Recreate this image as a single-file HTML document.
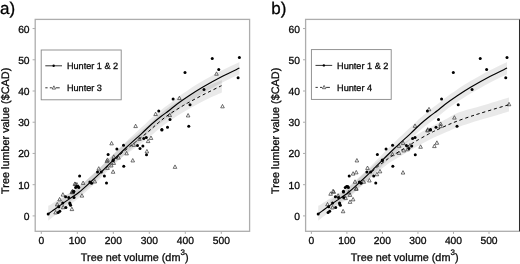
<!DOCTYPE html>
<html><head><meta charset="utf-8"><title>Tree lumber value</title>
<style>
html,body{margin:0;padding:0;background:#fff;}
svg{display:block;will-change:transform;filter:grayscale(1);}
text{font-family:"Liberation Sans",sans-serif;fill:#0a0a0a;stroke:#0a0a0a;stroke-width:0.3px;text-rendering:geometricPrecision;}
.tk{font-size:10.3px;}
.ti{font-size:10.85px;}
.lg{font-size:9.15px;}
.pl{font-size:17px;fill:#000;}
</style></head><body>
<svg width="520" height="264" viewBox="0 0 520 264">
<rect x="0" y="0" width="520" height="264" fill="#fff"/>

<g>
<path d="M48.20 205.93 C48.78 205.60 48.90 205.68 51.70 203.96 C54.50 202.23 60.50 198.51 65.00 195.61 C69.50 192.70 74.43 189.78 78.70 186.54 C82.97 183.31 87.05 179.37 90.60 176.18 C94.15 172.99 97.58 169.70 100.00 167.40 C102.42 165.10 103.22 164.25 105.10 162.40 C106.97 160.55 107.80 159.68 111.25 156.28 C114.70 152.88 120.69 146.85 125.80 141.99 C130.91 137.13 137.57 131.15 141.90 127.10 C146.23 123.05 148.58 120.55 151.80 117.68 C155.03 114.81 158.37 112.16 161.25 109.88 C164.13 107.60 166.51 106.00 169.10 104.00 C171.69 102.00 173.48 100.29 176.80 97.88 C180.12 95.46 184.72 92.29 189.00 89.49 C193.28 86.70 197.00 84.30 202.50 81.10 C208.00 77.90 215.85 73.50 222.00 70.30 C228.15 67.10 236.50 63.30 239.40 61.90 L239.40 74.30 C236.50 75.70 228.15 79.50 222.00 82.70 C215.85 85.90 208.00 90.27 202.50 93.50 C197.00 96.73 193.28 99.24 189.00 102.11 C184.72 104.98 180.12 108.24 176.80 110.72 C173.48 113.21 171.69 115.02 169.10 117.00 C166.51 118.98 164.13 120.42 161.25 122.60 C158.37 124.77 155.03 127.28 151.80 130.05 C148.58 132.81 146.23 135.24 141.90 139.17 C137.57 143.10 130.91 148.87 125.80 153.61 C120.69 158.35 114.70 164.26 111.25 167.61 C107.80 170.96 106.97 171.85 105.10 173.70 C103.22 175.55 102.42 176.40 100.00 178.70 C97.58 181.00 94.15 184.27 90.60 187.52 C87.05 190.78 82.97 194.82 78.70 198.23 C74.43 201.65 69.50 204.71 65.00 207.99 C60.50 211.28 54.50 215.85 51.70 217.95 C48.90 220.05 48.78 220.15 48.20 220.59 Z" fill="#000" fill-opacity="0.085"/>
<path d="M55.00 203.70 C56.67 202.48 61.05 199.18 65.00 196.40 C68.95 193.62 74.43 190.32 78.70 187.00 C82.97 183.68 87.05 179.72 90.60 176.50 C94.15 173.28 96.56 171.02 100.00 167.70 C103.44 164.38 106.95 160.75 111.25 156.60 C115.55 152.45 121.76 146.32 125.80 142.80 C129.84 139.28 131.68 138.55 135.50 135.50 C139.32 132.45 144.95 127.82 148.75 124.50 C152.55 121.18 154.91 118.52 158.30 115.60 C161.69 112.68 164.73 109.93 169.10 107.00 C173.47 104.07 178.93 101.08 184.50 98.00 C190.07 94.92 196.27 91.48 202.50 88.50 C208.73 85.52 218.67 81.50 221.90 80.10 L221.90 92.60 C218.67 94.08 208.73 98.35 202.50 101.50 C196.27 104.65 190.07 108.20 184.50 111.50 C178.93 114.80 173.47 118.30 169.10 121.30 C164.73 124.30 161.69 126.75 158.30 129.50 C154.91 132.25 152.55 134.75 148.75 137.80 C144.95 140.85 139.32 145.02 135.50 147.80 C131.68 150.58 129.84 151.53 125.80 154.50 C121.76 157.47 115.55 161.98 111.25 165.60 C106.95 169.22 103.44 172.97 100.00 176.20 C96.56 179.43 94.15 181.78 90.60 185.00 C87.05 188.22 82.97 192.17 78.70 195.50 C74.43 198.83 68.95 202.22 65.00 205.00 C61.05 207.78 56.67 211.00 55.00 212.20 Z" fill="#000" fill-opacity="0.085"/>
<g fill="none" stroke="#333" stroke-width="0.7" stroke-linejoin="miter">
<path d="M63.20 205.33 L65.00 208.75 L61.40 208.75 Z"/>
<path d="M74.80 181.93 L76.60 185.35 L73.00 185.35 Z"/>
<path d="M76.90 182.53 L78.70 185.95 L75.10 185.95 Z"/>
<path d="M72.50 190.33 L74.30 193.75 L70.70 193.75 Z"/>
<path d="M62.90 192.68 L64.70 196.10 L61.10 196.10 Z"/>
<path d="M59.60 197.43 L61.40 200.85 L57.80 200.85 Z"/>
<path d="M57.25 202.43 L59.05 205.85 L55.45 205.85 Z"/>
<path d="M71.90 207.18 L73.70 210.60 L70.10 210.60 Z"/>
<path d="M81.90 193.68 L83.70 197.10 L80.10 197.10 Z"/>
<path d="M71.90 190.18 L73.70 193.60 L70.10 193.60 Z"/>
<path d="M55.60 210.53 L57.40 213.95 L53.80 213.95 Z"/>
<path d="M83.10 181.03 L84.90 184.45 L81.30 184.45 Z"/>
<path d="M75.60 182.33 L77.40 185.75 L73.80 185.75 Z"/>
<path d="M94.80 179.53 L96.60 182.95 L93.00 182.95 Z"/>
<path d="M98.75 166.68 L100.55 170.10 L96.95 170.10 Z"/>
<path d="M113.10 169.83 L114.90 173.25 L111.30 173.25 Z"/>
<path d="M107.50 166.03 L109.30 169.45 L105.70 169.45 Z"/>
<path d="M111.25 163.53 L113.05 166.95 L109.45 166.95 Z"/>
<path d="M113.75 161.03 L115.55 164.45 L111.95 164.45 Z"/>
<path d="M106.90 159.18 L108.70 162.60 L105.10 162.60 Z"/>
<path d="M72.50 189.18 L74.30 192.60 L70.70 192.60 Z"/>
<path d="M111.60 141.43 L113.40 144.85 L109.80 144.85 Z"/>
<path d="M133.75 142.93 L135.55 146.35 L131.95 146.35 Z"/>
<path d="M139.40 136.93 L141.20 140.35 L137.60 140.35 Z"/>
<path d="M126.60 151.43 L128.40 154.85 L124.80 154.85 Z"/>
<path d="M118.50 155.68 L120.30 159.10 L116.70 159.10 Z"/>
<path d="M132.75 158.53 L134.55 161.95 L130.95 161.95 Z"/>
<path d="M146.90 149.43 L148.70 152.85 L145.10 152.85 Z"/>
<path d="M148.10 139.18 L149.90 142.60 L146.30 142.60 Z"/>
<path d="M151.00 136.03 L152.80 139.45 L149.20 139.45 Z"/>
<path d="M107.50 157.93 L109.30 161.35 L105.70 161.35 Z"/>
<path d="M113.75 154.83 L115.55 158.25 L111.95 158.25 Z"/>
<path d="M155.60 112.13 L157.40 115.55 L153.80 115.55 Z"/>
<path d="M135.60 124.18 L137.40 127.60 L133.80 127.60 Z"/>
<path d="M169.75 113.18 L171.55 116.60 L167.95 116.60 Z"/>
<path d="M188.10 113.53 L189.90 116.95 L186.30 116.95 Z"/>
<path d="M216.50 71.83 L218.30 75.25 L214.70 75.25 Z"/>
<path d="M179.40 96.18 L181.20 99.60 L177.60 99.60 Z"/>
<path d="M222.50 104.43 L224.30 107.85 L220.70 107.85 Z"/>
<path d="M175.00 164.93 L176.80 168.35 L173.20 168.35 Z"/>
</g>
<g fill="#000">
<circle cx="48.20" cy="213.90" r="1.5"/>
<circle cx="59.80" cy="211.30" r="1.5"/>
<circle cx="58.20" cy="212.40" r="1.5"/>
<circle cx="69.80" cy="203.00" r="1.5"/>
<circle cx="70.60" cy="205.30" r="1.5"/>
<circle cx="76.90" cy="186.60" r="1.5"/>
<circle cx="58.75" cy="206.75" r="1.5"/>
<circle cx="62.75" cy="203.00" r="1.5"/>
<circle cx="65.90" cy="207.40" r="1.5"/>
<circle cx="70.00" cy="203.90" r="1.5"/>
<circle cx="68.75" cy="197.60" r="1.5"/>
<circle cx="74.00" cy="197.60" r="1.5"/>
<circle cx="65.60" cy="196.75" r="1.5"/>
<circle cx="73.75" cy="192.00" r="1.5"/>
<circle cx="75.60" cy="187.60" r="1.5"/>
<circle cx="78.75" cy="187.60" r="1.5"/>
<circle cx="79.60" cy="176.10" r="1.5"/>
<circle cx="91.60" cy="183.20" r="1.5"/>
<circle cx="104.40" cy="176.00" r="1.5"/>
<circle cx="106.50" cy="183.10" r="1.5"/>
<circle cx="123.75" cy="166.25" r="1.5"/>
<circle cx="89.90" cy="181.90" r="1.5"/>
<circle cx="97.50" cy="171.90" r="1.5"/>
<circle cx="101.25" cy="172.10" r="1.5"/>
<circle cx="78.10" cy="186.60" r="1.5"/>
<circle cx="73.75" cy="191.25" r="1.5"/>
<circle cx="113.10" cy="160.60" r="1.5"/>
<circle cx="108.10" cy="154.40" r="1.5"/>
<circle cx="116.90" cy="149.00" r="1.5"/>
<circle cx="123.50" cy="145.25" r="1.5"/>
<circle cx="137.50" cy="145.60" r="1.5"/>
<circle cx="140.00" cy="148.50" r="1.5"/>
<circle cx="142.90" cy="146.00" r="1.5"/>
<circle cx="146.50" cy="154.75" r="1.5"/>
<circle cx="143.75" cy="138.50" r="1.5"/>
<circle cx="146.25" cy="137.50" r="1.5"/>
<circle cx="161.90" cy="130.00" r="1.5"/>
<circle cx="113.10" cy="160.00" r="1.5"/>
<circle cx="158.75" cy="111.00" r="1.5"/>
<circle cx="170.00" cy="119.40" r="1.5"/>
<circle cx="161.90" cy="129.40" r="1.5"/>
<circle cx="167.50" cy="127.25" r="1.5"/>
<circle cx="188.75" cy="126.25" r="1.5"/>
<circle cx="190.00" cy="104.75" r="1.5"/>
<circle cx="185.00" cy="72.60" r="1.5"/>
<circle cx="204.00" cy="89.50" r="1.5"/>
<circle cx="173.10" cy="98.90" r="1.5"/>
<circle cx="212.25" cy="58.40" r="1.5"/>
<circle cx="239.40" cy="57.50" r="1.5"/>
<circle cx="218.75" cy="69.40" r="1.5"/>
<circle cx="238.10" cy="77.75" r="1.5"/>
</g>
<path d="M48.20 213.90 C48.78 213.48 48.90 213.40 51.70 211.40 C54.50 209.40 60.50 205.05 65.00 201.90 C69.50 198.75 74.43 195.82 78.70 192.50 C82.97 189.18 87.05 185.22 90.60 182.00 C94.15 178.78 97.58 175.50 100.00 173.20 C102.42 170.90 103.22 170.05 105.10 168.20 C106.97 166.35 107.80 165.47 111.25 162.10 C114.70 158.73 120.69 152.80 125.80 148.00 C130.91 143.20 137.57 137.30 141.90 133.30 C146.23 129.30 148.58 126.83 151.80 124.00 C155.03 121.17 158.37 118.55 161.25 116.30 C164.13 114.05 166.51 112.50 169.10 110.50 C171.69 108.50 173.48 106.75 176.80 104.30 C180.12 101.85 184.72 98.63 189.00 95.80 C193.28 92.97 197.00 90.52 202.50 87.30 C208.00 84.08 215.85 79.70 222.00 76.50 C228.15 73.30 236.50 69.50 239.40 68.10" fill="none" stroke="#000" stroke-width="1.15"/>
<path d="M116.00 158.60 C117.08 157.58 119.25 155.27 122.50 152.50 C125.75 149.73 131.12 145.54 135.50 142.00 C139.88 138.46 144.95 134.45 148.75 131.25 C152.55 128.05 154.91 125.61 158.30 122.80 C161.69 119.99 164.73 117.40 169.10 114.40 C173.47 111.40 181.43 106.68 184.50 104.80 C187.57 102.92 184.50 104.72 187.50 103.10 C190.50 101.48 196.83 98.00 202.50 95.10 C208.17 92.20 218.33 87.27 221.50 85.70" fill="none" stroke="#000" stroke-width="1.0" stroke-dasharray="3.2 2.8" stroke-dashoffset="0"/>
<rect x="35.20" y="19.40" width="214.40" height="211.90" fill="none" stroke="#adadad" stroke-width="1.3"/>
<g stroke="#adadad" stroke-width="1.0">
<line x1="32.60" y1="215.90" x2="35.20" y2="215.90"/>
<line x1="32.60" y1="184.68" x2="35.20" y2="184.68"/>
<line x1="32.60" y1="153.45" x2="35.20" y2="153.45"/>
<line x1="32.60" y1="122.23" x2="35.20" y2="122.23"/>
<line x1="32.60" y1="91.00" x2="35.20" y2="91.00"/>
<line x1="32.60" y1="59.78" x2="35.20" y2="59.78"/>
<line x1="32.60" y1="28.55" x2="35.20" y2="28.55"/>
<line x1="41.30" y1="231.30" x2="41.30" y2="233.90"/>
<line x1="77.30" y1="231.30" x2="77.30" y2="233.90"/>
<line x1="113.30" y1="231.30" x2="113.30" y2="233.90"/>
<line x1="149.30" y1="231.30" x2="149.30" y2="233.90"/>
<line x1="185.30" y1="231.30" x2="185.30" y2="233.90"/>
<line x1="221.30" y1="231.30" x2="221.30" y2="233.90"/>
</g>
<text class="tk" x="29.60" y="219.90" text-anchor="end">0</text>
<text class="tk" x="29.60" y="188.68" text-anchor="end">10</text>
<text class="tk" x="29.60" y="157.45" text-anchor="end">20</text>
<text class="tk" x="29.60" y="126.23" text-anchor="end">30</text>
<text class="tk" x="29.60" y="95.00" text-anchor="end">40</text>
<text class="tk" x="29.60" y="63.78" text-anchor="end">50</text>
<text class="tk" x="29.60" y="32.55" text-anchor="end">60</text>
<text class="tk" x="41.30" y="243.60" text-anchor="middle">0</text>
<text class="tk" x="77.30" y="243.60" text-anchor="middle">100</text>
<text class="tk" x="113.30" y="243.60" text-anchor="middle">200</text>
<text class="tk" x="149.30" y="243.60" text-anchor="middle">300</text>
<text class="tk" x="185.30" y="243.60" text-anchor="middle">400</text>
<text class="tk" x="221.30" y="243.60" text-anchor="middle">500</text>
<text class="ti" x="80.80" y="261.20">Tree net volume (dm<tspan dy="-6.3" font-size="8px">3</tspan><tspan dy="6.3">)</tspan></text>
<text class="ti" transform="translate(9.20 193.90) rotate(-90)" x="0" y="0">Tree lumber value ($CAD)</text>
<text class="pl" x="0.00" y="13.80">a)</text>
<rect x="41.20" y="50.00" width="80.00" height="49.80" fill="#fff" stroke="#888" stroke-width="0.9"/>
<line x1="45.30" y1="65.80" x2="62.00" y2="65.80" stroke="#000" stroke-width="0.8"/>
<circle cx="53.65" cy="65.80" r="1.2" fill="#000"/>
<line x1="45.30" y1="87.80" x2="47.60" y2="87.80" stroke="#000" stroke-width="0.8"/>
<line x1="49.80" y1="87.80" x2="51.90" y2="87.80" stroke="#000" stroke-width="0.8"/>
<line x1="55.90" y1="87.80" x2="59.70" y2="87.80" stroke="#000" stroke-width="0.8"/>
<g fill="#fff" stroke="#222" stroke-width="0.65"><path d="M53.90 85.84 L55.60 89.08 L52.20 89.08 Z"/></g>
<text class="lg" x="66.90" y="69.10">Hunter 1 &amp; 2</text>
<text class="lg" x="66.90" y="91.10">Hunter 3</text>
</g>
<g>
<path d="M318.20 205.93 C318.78 205.60 318.90 205.68 321.66 203.96 C324.43 202.23 330.35 198.51 334.80 195.61 C339.24 192.70 344.11 189.78 348.33 186.54 C352.54 183.31 356.57 179.37 360.08 176.18 C363.58 172.99 366.97 169.70 369.36 167.40 C371.75 165.10 372.55 164.25 374.40 162.40 C376.25 160.55 377.06 159.68 380.47 156.28 C383.88 152.88 389.80 146.85 394.84 141.99 C399.89 137.13 406.46 131.15 410.74 127.10 C415.02 123.05 417.33 120.55 420.52 117.68 C423.70 114.81 427.00 112.16 429.85 109.88 C432.70 107.60 435.04 106.00 437.60 104.00 C440.16 102.00 441.93 100.29 445.21 97.88 C448.48 95.46 453.03 92.29 457.26 89.49 C461.49 86.70 465.16 84.30 470.59 81.10 C476.02 77.90 483.77 73.50 489.85 70.30 C495.92 67.10 504.17 63.30 507.03 61.90 L507.03 74.30 C504.17 75.70 495.92 79.50 489.85 82.70 C483.77 85.90 476.02 90.27 470.59 93.50 C465.16 96.73 461.49 99.24 457.26 102.11 C453.03 104.98 448.48 108.24 445.21 110.72 C441.93 113.21 440.16 115.02 437.60 117.00 C435.04 118.98 432.70 120.42 429.85 122.60 C427.00 124.77 423.70 127.28 420.52 130.05 C417.33 132.81 415.02 135.24 410.74 139.17 C406.46 143.10 399.89 148.87 394.84 153.61 C389.80 158.35 383.88 164.26 380.47 167.61 C377.06 170.96 376.25 171.85 374.40 173.70 C372.55 175.55 371.75 176.40 369.36 178.70 C366.97 181.00 363.58 184.27 360.08 187.52 C356.57 190.78 352.54 194.82 348.33 198.23 C344.11 201.65 339.24 204.71 334.80 207.99 C330.35 211.28 324.43 215.85 321.66 217.95 C318.90 220.05 318.78 220.15 318.20 220.59 Z" fill="#000" fill-opacity="0.085"/>
<path d="M330.00 200.50 C333.05 198.37 343.30 191.57 348.30 187.70 C353.30 183.83 356.38 180.48 360.00 177.30 C363.62 174.12 367.08 171.18 370.00 168.60 C372.92 166.02 375.00 163.93 377.50 161.80 C380.00 159.67 382.67 157.60 385.00 155.80 C387.33 154.00 388.37 153.13 391.50 151.00 C394.63 148.87 400.08 145.40 403.80 143.00 C407.52 140.60 409.43 139.23 413.80 136.60 C418.17 133.97 424.35 130.27 430.00 127.20 C435.65 124.13 442.95 120.65 447.70 118.20 C452.45 115.75 453.12 114.48 458.50 112.50 C463.88 110.52 473.92 108.08 480.00 106.30 C486.08 104.52 490.17 103.27 495.00 101.80 C499.83 100.33 506.67 98.22 509.00 97.50 L509.00 111.50 C506.67 112.20 499.83 114.28 495.00 115.70 C490.17 117.12 486.08 118.12 480.00 120.00 C473.92 121.88 463.88 125.07 458.50 127.00 C453.12 128.93 452.45 129.53 447.70 131.60 C442.95 133.67 435.65 136.63 430.00 139.40 C424.35 142.17 418.17 145.73 413.80 148.20 C409.43 150.67 407.52 151.97 403.80 154.20 C400.08 156.43 394.63 159.60 391.50 161.60 C388.37 163.60 387.33 164.50 385.00 166.20 C382.67 167.90 380.00 169.73 377.50 171.80 C375.00 173.87 372.92 176.15 370.00 178.60 C367.08 181.05 363.62 183.52 360.00 186.50 C356.38 189.48 353.30 192.75 348.30 196.50 C343.30 200.25 333.05 206.92 330.00 209.00 Z" fill="#000" fill-opacity="0.085"/>
<g fill="none" stroke="#333" stroke-width="0.7" stroke-linejoin="miter">
<path d="M403.00 170.63 L404.80 174.05 L401.20 174.05 Z"/>
<path d="M436.90 140.83 L438.70 144.25 L435.10 144.25 Z"/>
<path d="M330.60 191.83 L332.40 195.25 L328.80 195.25 Z"/>
<path d="M333.75 189.93 L335.55 193.35 L331.95 193.35 Z"/>
<path d="M343.10 209.33 L344.90 212.75 L341.30 212.75 Z"/>
<path d="M350.00 199.93 L351.80 203.35 L348.20 203.35 Z"/>
<path d="M353.10 197.43 L354.90 200.85 L351.30 200.85 Z"/>
<path d="M350.00 193.03 L351.80 196.45 L348.20 196.45 Z"/>
<path d="M345.60 196.18 L347.40 199.60 L343.80 199.60 Z"/>
<path d="M338.10 193.68 L339.90 197.10 L336.30 197.10 Z"/>
<path d="M356.25 186.83 L358.05 190.25 L354.45 190.25 Z"/>
<path d="M327.50 202.43 L329.30 205.85 L325.70 205.85 Z"/>
<path d="M332.50 205.53 L334.30 208.95 L330.70 208.95 Z"/>
<path d="M356.90 158.53 L358.70 161.95 L355.10 161.95 Z"/>
<path d="M353.10 171.68 L354.90 175.10 L351.30 175.10 Z"/>
<path d="M356.25 170.43 L358.05 173.85 L354.45 173.85 Z"/>
<path d="M355.00 179.83 L356.80 183.25 L353.20 183.25 Z"/>
<path d="M363.75 179.83 L365.55 183.25 L361.95 183.25 Z"/>
<path d="M369.40 178.53 L371.20 181.95 L367.60 181.95 Z"/>
<path d="M367.50 166.03 L369.30 169.45 L365.70 169.45 Z"/>
<path d="M380.00 169.43 L381.80 172.85 L378.20 172.85 Z"/>
<path d="M376.90 172.33 L378.70 175.75 L375.10 175.75 Z"/>
<path d="M356.25 186.68 L358.05 190.10 L354.45 190.10 Z"/>
<path d="M333.10 189.18 L334.90 192.60 L331.30 192.60 Z"/>
<path d="M348.75 190.43 L350.55 193.85 L346.95 193.85 Z"/>
<path d="M403.10 141.03 L404.90 144.45 L401.30 144.45 Z"/>
<path d="M399.00 143.93 L400.80 147.35 L397.20 147.35 Z"/>
<path d="M403.75 148.53 L405.55 151.95 L401.95 151.95 Z"/>
<path d="M399.00 151.03 L400.80 154.45 L397.20 154.45 Z"/>
<path d="M392.50 152.33 L394.30 155.75 L390.70 155.75 Z"/>
<path d="M407.50 147.33 L409.30 150.75 L405.70 150.75 Z"/>
<path d="M420.60 144.83 L422.40 148.25 L418.80 148.25 Z"/>
<path d="M434.40 144.18 L436.20 147.60 L432.60 147.60 Z"/>
<path d="M427.50 128.53 L429.30 131.95 L425.70 131.95 Z"/>
<path d="M410.00 143.53 L411.80 146.95 L408.20 146.95 Z"/>
<path d="M429.00 107.33 L430.80 110.75 L427.20 110.75 Z"/>
<path d="M415.00 123.93 L416.80 127.35 L413.20 127.35 Z"/>
<path d="M440.60 121.93 L442.40 125.35 L438.80 125.35 Z"/>
<path d="M454.40 115.68 L456.20 119.10 L452.60 119.10 Z"/>
<path d="M427.75 127.68 L429.55 131.10 L425.95 131.10 Z"/>
<path d="M440.60 124.18 L442.40 127.60 L438.80 127.60 Z"/>
<path d="M509.00 102.33 L510.80 105.75 L507.20 105.75 Z"/>
</g>
<g fill="#000">
<circle cx="318.20" cy="213.90" r="1.5"/>
<circle cx="329.66" cy="211.30" r="1.5"/>
<circle cx="328.08" cy="212.40" r="1.5"/>
<circle cx="339.54" cy="203.00" r="1.5"/>
<circle cx="340.33" cy="205.30" r="1.5"/>
<circle cx="346.55" cy="186.60" r="1.5"/>
<circle cx="328.62" cy="206.75" r="1.5"/>
<circle cx="332.57" cy="203.00" r="1.5"/>
<circle cx="335.68" cy="207.40" r="1.5"/>
<circle cx="339.73" cy="203.90" r="1.5"/>
<circle cx="338.50" cy="197.60" r="1.5"/>
<circle cx="343.68" cy="197.60" r="1.5"/>
<circle cx="335.39" cy="196.75" r="1.5"/>
<circle cx="343.44" cy="192.00" r="1.5"/>
<circle cx="345.26" cy="187.60" r="1.5"/>
<circle cx="348.38" cy="187.60" r="1.5"/>
<circle cx="349.21" cy="176.10" r="1.5"/>
<circle cx="361.07" cy="183.20" r="1.5"/>
<circle cx="373.71" cy="176.00" r="1.5"/>
<circle cx="375.78" cy="183.10" r="1.5"/>
<circle cx="392.82" cy="166.25" r="1.5"/>
<circle cx="359.39" cy="181.90" r="1.5"/>
<circle cx="366.89" cy="171.90" r="1.5"/>
<circle cx="370.60" cy="172.10" r="1.5"/>
<circle cx="347.73" cy="186.60" r="1.5"/>
<circle cx="343.44" cy="191.25" r="1.5"/>
<circle cx="382.30" cy="160.60" r="1.5"/>
<circle cx="377.36" cy="154.40" r="1.5"/>
<circle cx="386.05" cy="149.00" r="1.5"/>
<circle cx="392.57" cy="145.25" r="1.5"/>
<circle cx="406.40" cy="145.60" r="1.5"/>
<circle cx="408.87" cy="148.50" r="1.5"/>
<circle cx="411.73" cy="146.00" r="1.5"/>
<circle cx="415.28" cy="154.75" r="1.5"/>
<circle cx="412.57" cy="138.50" r="1.5"/>
<circle cx="415.04" cy="137.50" r="1.5"/>
<circle cx="430.49" cy="130.00" r="1.5"/>
<circle cx="382.30" cy="160.00" r="1.5"/>
<circle cx="427.38" cy="111.00" r="1.5"/>
<circle cx="438.49" cy="119.40" r="1.5"/>
<circle cx="430.49" cy="129.40" r="1.5"/>
<circle cx="436.02" cy="127.25" r="1.5"/>
<circle cx="457.01" cy="126.25" r="1.5"/>
<circle cx="458.24" cy="104.75" r="1.5"/>
<circle cx="453.31" cy="72.60" r="1.5"/>
<circle cx="472.07" cy="89.50" r="1.5"/>
<circle cx="441.55" cy="98.90" r="1.5"/>
<circle cx="480.22" cy="58.40" r="1.5"/>
<circle cx="507.03" cy="57.50" r="1.5"/>
<circle cx="486.64" cy="69.40" r="1.5"/>
<circle cx="505.75" cy="77.75" r="1.5"/>
</g>
<path d="M318.20 213.90 C318.78 213.48 318.90 213.40 321.66 211.40 C324.43 209.40 330.35 205.05 334.80 201.90 C339.24 198.75 344.11 195.82 348.33 192.50 C352.54 189.18 356.57 185.22 360.08 182.00 C363.58 178.78 366.97 175.50 369.36 173.20 C371.75 170.90 372.55 170.05 374.40 168.20 C376.25 166.35 377.06 165.47 380.47 162.10 C383.88 158.73 389.80 152.80 394.84 148.00 C399.89 143.20 406.46 137.30 410.74 133.30 C415.02 129.30 417.33 126.83 420.52 124.00 C423.70 121.17 427.00 118.55 429.85 116.30 C432.70 114.05 435.04 112.50 437.60 110.50 C440.16 108.50 441.93 106.75 445.21 104.30 C448.48 101.85 453.03 98.63 457.26 95.80 C461.49 92.97 465.16 90.52 470.59 87.30 C476.02 84.08 483.77 79.70 489.85 76.50 C495.92 73.30 504.17 69.50 507.03 68.10" fill="none" stroke="#000" stroke-width="1.15"/>
<path d="M372.00 171.60 C372.92 170.80 375.33 168.57 377.50 166.80 C379.67 165.03 382.67 162.75 385.00 161.00 C387.33 159.25 388.37 158.37 391.50 156.30 C394.63 154.23 400.08 150.92 403.80 148.60 C407.52 146.28 411.35 143.90 413.80 142.40 C416.25 140.90 415.80 141.12 418.50 139.60 C421.20 138.08 427.18 134.80 430.00 133.30 C432.82 131.80 432.45 131.98 435.40 130.60 C438.35 129.22 444.02 126.60 447.70 125.00 C451.38 123.40 453.78 122.40 457.50 121.00 C461.22 119.60 466.25 117.87 470.00 116.60 C473.75 115.33 475.83 114.70 480.00 113.40 C484.17 112.10 490.21 110.24 495.00 108.80 C499.79 107.36 506.46 105.42 508.75 104.75" fill="none" stroke="#000" stroke-width="1.0" stroke-dasharray="3.2 2.8" stroke-dashoffset="0"/>
<rect x="305.60" y="19.40" width="214.00" height="211.90" fill="none" stroke="#adadad" stroke-width="1.3"/>
<line x1="519.60" y1="19.40" x2="519.60" y2="231.30" stroke="#2b2b2b" stroke-width="1.2"/>
<g stroke="#adadad" stroke-width="1.0">
<line x1="303.00" y1="215.90" x2="305.60" y2="215.90"/>
<line x1="303.00" y1="184.68" x2="305.60" y2="184.68"/>
<line x1="303.00" y1="153.45" x2="305.60" y2="153.45"/>
<line x1="303.00" y1="122.23" x2="305.60" y2="122.23"/>
<line x1="303.00" y1="91.00" x2="305.60" y2="91.00"/>
<line x1="303.00" y1="59.78" x2="305.60" y2="59.78"/>
<line x1="303.00" y1="28.55" x2="305.60" y2="28.55"/>
<line x1="311.40" y1="231.30" x2="311.40" y2="233.90"/>
<line x1="346.92" y1="231.30" x2="346.92" y2="233.90"/>
<line x1="382.44" y1="231.30" x2="382.44" y2="233.90"/>
<line x1="417.96" y1="231.30" x2="417.96" y2="233.90"/>
<line x1="453.48" y1="231.30" x2="453.48" y2="233.90"/>
<line x1="489.00" y1="231.30" x2="489.00" y2="233.90"/>
</g>
<text class="tk" x="300.00" y="219.90" text-anchor="end">0</text>
<text class="tk" x="300.00" y="188.68" text-anchor="end">10</text>
<text class="tk" x="300.00" y="157.45" text-anchor="end">20</text>
<text class="tk" x="300.00" y="126.23" text-anchor="end">30</text>
<text class="tk" x="300.00" y="95.00" text-anchor="end">40</text>
<text class="tk" x="300.00" y="63.78" text-anchor="end">50</text>
<text class="tk" x="300.00" y="32.55" text-anchor="end">60</text>
<text class="tk" x="311.40" y="243.60" text-anchor="middle">0</text>
<text class="tk" x="346.92" y="243.60" text-anchor="middle">100</text>
<text class="tk" x="382.44" y="243.60" text-anchor="middle">200</text>
<text class="tk" x="417.96" y="243.60" text-anchor="middle">300</text>
<text class="tk" x="453.48" y="243.60" text-anchor="middle">400</text>
<text class="tk" x="489.00" y="243.60" text-anchor="middle">500</text>
<text class="ti" x="350.80" y="261.20">Tree net volume (dm<tspan dy="-6.3" font-size="8px">3</tspan><tspan dy="6.3">)</tspan></text>
<text class="ti" transform="translate(279.20 193.90) rotate(-90)" x="0" y="0">Tree lumber value ($CAD)</text>
<text class="pl" x="271.30" y="13.80">b)</text>
<rect x="311.40" y="49.60" width="79.80" height="49.80" fill="#fff" stroke="#888" stroke-width="0.9"/>
<line x1="315.50" y1="65.40" x2="332.20" y2="65.40" stroke="#000" stroke-width="0.8"/>
<circle cx="323.85" cy="65.40" r="1.2" fill="#000"/>
<line x1="315.50" y1="87.40" x2="317.80" y2="87.40" stroke="#000" stroke-width="0.8"/>
<line x1="320.00" y1="87.40" x2="322.10" y2="87.40" stroke="#000" stroke-width="0.8"/>
<line x1="326.10" y1="87.40" x2="329.90" y2="87.40" stroke="#000" stroke-width="0.8"/>
<g fill="#fff" stroke="#222" stroke-width="0.65"><path d="M324.10 85.45 L325.80 88.68 L322.40 88.68 Z"/></g>
<text class="lg" x="337.10" y="68.70">Hunter 1 &amp; 2</text>
<text class="lg" x="337.10" y="90.70">Hunter 4</text>
</g>
</svg>
</body></html>
